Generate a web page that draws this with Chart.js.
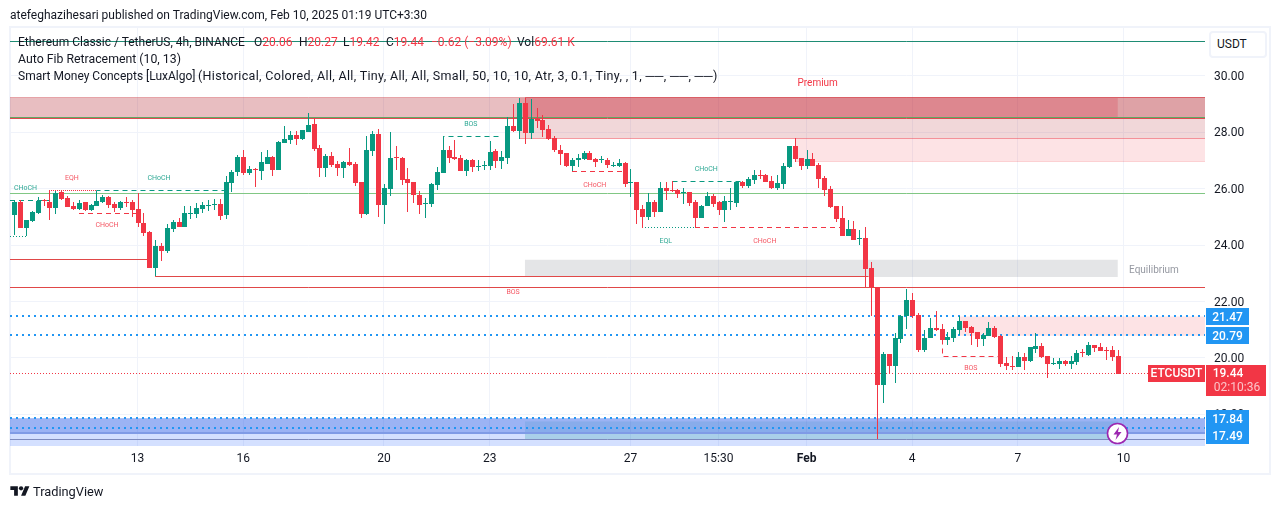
<!DOCTYPE html>
<html>
<head>
<meta charset="utf-8">
<title>ETCUSDT</title>
<script src="https://cdn.jsdelivr.net/npm/chart.js@4/dist/chart.umd.min.js"></script>
<style>
  html, body { margin: 0; padding: 0; background: #fff; }
  body { width: 1281px; height: 509px; overflow: hidden; position: relative; font-family: Roboto, sans-serif; color: #131722; }
  canvas { position: absolute; left: 0; top: 0; }
  .txt { position: absolute; white-space: pre; font-size: 12px; line-height: 16px; }
  .red { color: #f23645; }
  #frame { position: absolute; left: 9px; top: 26px; width: 1258px; height: 445px; border: 2px solid #f0f3fa; }
  #unit { position: absolute; left: 1209px; top: 31px; width: 48px; height: 23px; padding-left: 6px; border: 2px solid #f0f3fa; border-radius: 4px; font-size: 12px; line-height: 23px; background: #fff; }
  #bolt { position: absolute; left: 1106px; top: 422px; }
  #logo { position: absolute; left: 10px; top: 484px; }
</style>
</head>
<body>
<div id="frame"></div>
<canvas id="chart" width="1281" height="509"></canvas>
<div class="txt" style="left:10px;top:7px">atefeghazihesari published on TradingView.com, Feb 10, 2025 01:19 UTC+3:30</div>
<div class="txt" style="left:18px;top:34px">Ethereum Classic / TetherUS, 4h, BINANCE</div>
<div class="txt" style="left:254px;top:34px">O<span class="red">20.06</span></div>
<div class="txt" style="left:299px;top:34px">H<span class="red">20.27</span></div>
<div class="txt" style="left:343px;top:34px">L<span class="red">19.42</span></div>
<div class="txt" style="left:386px;top:34px">C<span class="red">19.44</span></div>
<div class="txt red" style="left:431px;top:34px">−0.62 (−3.09%)</div>
<div class="txt" style="left:517px;top:34px">Vol<span class="red">69.61 K</span></div>
<div class="txt" style="left:18px;top:51px;font-size:12.3px">Auto Fib Retracement (10, 13)</div>
<div class="txt" style="left:18px;top:68px">Smart Money Concepts [LuxAlgo]</div>
<div class="txt" style="left:198px;top:68px;font-size:12.5px;letter-spacing:.33px">(Historical, Colored, All, All, Tiny, All, All, Small, 50, 10, 10, Atr, 3, 0.1, Tiny, , 1, ──, ──, ──)</div>
<div id="unit">USDT</div>
<svg id="bolt" width="23" height="23" viewBox="0 0 23 23"><circle cx="11.5" cy="11.5" r="10" fill="#fff" stroke="#9c27b0" stroke-width="1.6"/><path d="M13 5 L7.5 12.5 H11 L9.5 18 L15.5 10 H12 Z" fill="#9c27b0"/></svg>
<svg id="logo" width="20" height="15" viewBox="0 0 36 28"><path d="M14 22H7V11H0V4h14v18zM28 22h-8l7.5-18h8L28 22z" fill="#131722"/><circle cx="20" cy="8" r="4" fill="#131722"/></svg>
<div class="txt" style="left:33px;top:484px;font-size:12.8px">TradingView</div>

<script>
// candles, 4h, index 0 = first bar on the left
const opens = [25.07,25.53,24.61,24.86,25.14,25.60,25.53,25.32,25.89,25.67,
25.39,25.28,25.53,25.25,25.39,25.53,25.71,25.46,25.32,25.53,
25.53,25.28,24.79,24.47,23.19,23.97,23.79,24.57,24.82,24.65,
25.11,25.11,25.28,25.39,25.43,25.46,25.07,26.21,26.60,27.13,
26.56,26.70,26.63,26.88,27.13,26.67,27.62,27.73,27.91,27.77,
28.01,28.30,27.45,26.74,27.16,26.88,26.74,26.95,26.88,26.24,
25.11,27.34,27.94,25.43,25.99,27.13,27.09,26.35,26.24,25.78,
25.46,25.46,26.14,26.56,27.38,27.13,27.09,26.63,27.02,26.77,
26.81,26.81,27.34,26.99,27.09,28.23,28.05,29.04,27.98,28.47,
28.44,28.12,27.80,27.38,27.27,26.81,27.02,27.06,27.27,27.06,
27.02,27.02,26.81,26.81,26.91,26.21,26.24,25.28,25.00,25.53,
25.18,26.03,25.96,25.96,25.85,25.89,25.53,24.96,25.39,25.74,
25.53,25.25,25.53,25.50,26.24,26.10,26.31,26.49,26.49,26.28,
26.03,26.17,26.77,27.52,27.09,26.81,27.06,26.84,26.38,25.99,
25.39,24.96,24.33,24.57,24.22,24.26,23.19,22.51,19.04,20.14,
19.72,20.67,21.49,22.06,21.53,20.28,20.71,21.06,21.03,20.64,
20.71,20.99,21.31,21.10,20.92,20.67,20.78,21.06,20.78,19.82,
19.72,19.68,20.04,19.89,20.32,20.43,20.07,19.79,19.79,19.89,
19.79,19.86,20.21,20.11,20.46,20.39,20.28,20.28,20.06];
const highs = [25.57,25.60,24.89,25.21,25.71,25.64,25.92,25.92,25.92,25.74,
25.53,25.60,25.53,25.46,25.92,25.78,25.74,25.53,25.57,25.71,
25.60,25.85,25.14,24.50,24.18,24.08,24.75,24.89,24.96,25.39,
25.39,25.50,25.53,25.60,25.64,25.64,26.45,26.67,27.20,27.38,
26.81,26.74,27.30,27.38,27.16,27.70,28.23,28.05,28.05,28.09,
28.69,28.51,27.55,27.23,27.30,26.99,26.99,27.45,26.95,26.24,
27.87,28.05,28.12,26.17,28.01,27.52,27.13,26.74,26.24,25.92,
25.67,26.21,26.77,27.87,27.52,27.73,27.20,27.06,27.06,27.02,
26.99,27.70,27.41,27.34,28.55,29.01,29.22,29.22,29.18,28.87,
28.62,28.26,27.87,27.55,27.27,27.09,27.23,27.34,27.34,27.09,
27.16,27.09,26.95,27.06,26.95,26.70,26.24,25.43,25.85,25.60,
26.24,26.24,26.28,25.99,26.03,25.89,25.60,25.43,25.89,25.82,
25.57,25.74,26.03,26.28,26.28,26.42,26.67,26.67,26.53,26.45,
26.49,26.91,27.52,27.80,27.09,27.38,27.27,26.91,26.45,26.10,
25.39,25.39,24.89,24.86,24.54,24.65,23.40,22.51,20.21,20.14,
20.89,21.53,22.45,22.30,21.60,20.99,21.42,21.67,21.21,20.92,
21.10,21.49,21.31,21.14,20.92,20.89,21.28,21.14,20.82,20.04,
20.07,20.21,20.18,20.39,20.89,20.53,20.07,20.00,20.00,19.93,
20.07,20.28,20.32,20.57,20.46,20.53,20.39,20.43,20.27];
const lows = [24.36,24.61,24.33,24.82,25.11,25.39,24.89,25.11,25.60,25.35,
25.25,25.25,25.21,25.21,25.39,25.50,25.32,25.18,25.25,25.35,
25.00,24.65,24.33,23.19,22.90,23.44,23.72,24.47,24.65,24.65,
24.93,24.96,25.14,25.21,25.25,24.89,24.93,25.89,26.45,26.49,
26.49,26.06,26.31,26.88,26.45,26.67,27.62,27.59,27.55,27.73,
28.01,27.34,26.42,26.42,26.77,26.45,26.38,26.81,26.10,24.96,
25.07,27.16,25.00,24.75,25.74,26.67,26.14,25.18,25.50,25.11,
24.96,25.35,25.96,26.56,26.91,27.02,26.63,26.45,26.60,26.63,
26.67,26.67,26.74,26.70,26.88,28.01,27.77,27.59,27.77,28.16,
27.84,27.73,27.30,26.84,26.77,26.63,26.77,27.02,27.02,26.77,
26.91,26.74,26.77,26.77,26.06,25.71,24.75,24.62,24.89,25.00,
25.18,25.60,25.89,25.67,25.46,25.39,24.63,24.96,25.39,25.35,
25.07,24.82,25.25,25.35,26.03,26.03,26.17,26.35,26.24,25.99,
25.96,25.99,26.74,26.95,26.67,26.70,26.81,26.03,25.74,25.32,
24.82,24.33,24.33,24.18,24.00,22.51,21.49,17.13,18.40,19.43,
19.11,20.53,21.03,21.42,20.21,20.21,20.71,20.96,20.64,20.46,
20.57,20.82,20.92,20.46,20.39,20.43,20.78,20.71,19.68,19.57,
19.57,19.68,19.57,19.86,20.18,20.00,19.29,19.75,19.61,19.72,
19.61,19.75,20.04,20.07,20.21,20.25,19.93,19.89,19.42];
const closes = [25.53,24.61,24.89,25.18,25.57,25.57,25.32,25.85,25.64,25.35,
25.28,25.50,25.25,25.43,25.57,25.71,25.43,25.32,25.53,25.50,
25.25,24.79,24.43,23.19,23.97,23.79,24.61,24.82,24.65,25.14,
25.14,25.32,25.43,25.43,25.46,25.04,26.24,26.60,27.13,26.56,
26.70,26.67,26.95,27.13,26.67,27.66,27.77,27.91,27.77,28.09,
28.26,27.41,26.74,27.16,26.84,26.74,26.95,26.84,26.21,25.11,
27.38,27.94,25.43,26.03,27.09,27.09,26.31,26.21,25.78,25.43,
25.50,26.17,26.60,27.38,27.09,27.06,26.63,27.02,26.77,26.81,
26.84,27.30,26.99,27.13,28.23,28.05,29.04,27.98,28.47,28.40,
28.09,27.77,27.38,27.23,26.81,27.02,27.09,27.27,27.02,26.95,
27.05,26.84,26.84,26.91,26.17,26.24,25.25,25.00,25.53,25.18,
26.03,25.92,25.92,25.82,25.89,25.50,24.96,25.39,25.74,25.46,
25.25,25.57,25.57,26.24,26.10,26.35,26.49,26.45,26.24,26.03,
26.21,26.81,27.52,27.06,26.81,27.06,26.81,26.35,25.96,25.35,
24.93,24.33,24.57,24.18,24.26,23.16,22.51,19.04,20.14,19.72,
20.71,21.49,22.06,21.49,20.28,20.71,21.06,20.99,20.64,20.75,
21.03,21.31,21.06,20.89,20.67,20.82,21.06,20.75,19.79,19.72,
19.68,20.04,19.89,20.39,20.43,20.04,19.79,19.82,19.89,19.79,
19.89,20.18,20.18,20.46,20.35,20.25,20.25,20.04,19.44];

// axes
const xTickIndex = [21, 39, 63, 81, 105, 120, 135, 153, 171, 189];
const xTickLabels = ['13', '16', '20', '23', '27', '15:30', 'Feb', '4', '7', '10'];
const yTicks = [18, 20, 22, 24, 26, 28, 30];
const xFirst = -0.73, xLast = 202.9, yLow = 16.88, yHigh = 31.70;

// zones: [from bar, to bar, top price, bottom price]
const premiumBand = [xFirst, xLast, 29.22, 28.51];
const premiumInner = [87, 188.05, 29.22, 28.51];
const supplyBlock = [86, xLast, 29.22, 27.78];
const supplyBlockLow = [133, xLast, 27.78, 26.96];
const equilibriumBand = [87, 188.05, 23.48, 22.87];
const resistanceBand = [161, xLast, 21.47, 20.79];
const discountBand = [xFirst, xLast, 17.86, 16.88];
const discountMid = [xFirst, xLast, 17.86, 17.31];
const discountInner = [87, 188.05, 17.75, 17.31];
const discountInnerLow = [87, 188.05, 17.31, 17.11];

// horizontal levels and structure lines: [bar, price] points
const topFib = [[xFirst, 31.22], [xLast, 31.22]];
const fibHigh = [[xFirst, 28.51], [xLast, 28.51]];
const premiumFloor = [[xFirst, 28.49], [xLast, 28.49]];
const fibMid = [[xFirst, 25.83], [xLast, 25.83]];
const fibLow = [[xFirst, 22.50], [xLast, 22.50]];
const fibBase = [[xFirst, 17.31], [xLast, 17.31]];
const fibFloor = [[xFirst, 17.11], [xLast, 17.11]];
const leftRed = [[xFirst, 23.50], [23, 23.50]];
const longRed = [[24, 23.20], [24, 22.90], [145.5, 22.90]];
const dottedBlue = [21.47, 20.79, 17.84, 17.49];
const lastPrice = [[xFirst, 19.44], [xLast, 19.44]];
const greenDashed = [
  [[xFirst, 25.59], [6, 25.59]],
  [[14, 25.57], [14, 25.95], [36, 25.95]],
  [[73, 27.38], [73, 27.86], [83, 27.86]],
  [[112, 25.95], [112, 26.26], [124, 26.26]]
];
const redDashed = [
  [[11, 25.13], [21, 25.13]],
  [[95, 26.62], [104, 26.62]],
  [[116, 24.63], [141, 24.63]],
  [[158, 20.64], [158, 20.06], [168, 20.06]]
];
const greenDotted = [
  [[xFirst, 24.30], [2, 24.30]],
  [[107, 24.63], [116, 24.63]]
];
const redDotted = [[[6, 25.93], [14, 25.93]]];

// small labels on the chart
const greenLabels = ['CHoCH', 'CHoCH', 'BOS', 'CHoCH', 'EQL'];
const greenLabelBars = [1.9, 24.65, 77.8, 117.9, 111];
const greenLabelPrices = [26.06, 26.40, 28.32, 26.72, 24.19];
const redLabels = ['EQH', 'CHoCH', 'CHoCH', 'CHoCH', 'BOS', 'BOS'];
const redLabelBars = [9.83, 15.8, 98.9, 127.9, 85, 163];
const redLabelPrices = [26.40, 24.73, 26.17, 24.19, 22.38, 19.66];

const priceTags = [21.47, 20.79, 17.84, 17.49];

const GREEN = '#089981', RED = '#f23645', BLUE = '#2196f3';

function zone(r, color, order) {
  return {
    type: 'line', data: [{ x: r[0], y: r[2] }, { x: r[1], y: r[2] }],
    fill: { value: r[3] }, backgroundColor: color, borderWidth: 0,
    pointRadius: 0, order: order || 20
  };
}

function path(points, color, dash, width, order) {
  return {
    type: 'line', data: points.map(p => ({ x: p[0], y: p[1] })),
    borderColor: color, borderWidth: width || 1, borderDash: dash || [],
    pointRadius: 0, fill: false, tension: 0, order: order || 5
  };
}

const barColors = opens.map((o, i) => closes[i] >= o ? GREEN : RED);

const datasets = [
  zone(discountBand, 'rgba(41,98,255,0.2)'),
  zone(discountMid, 'rgba(59,100,216,0.36)'),
  zone(discountInner, 'rgba(8,153,129,0.15)'),
  zone(discountInnerLow, 'rgba(8,153,129,0.22)'),
  zone(premiumBand, 'rgba(178,40,51,0.3)'),
  zone(supplyBlock, 'rgba(178,40,51,0.19)'),
  zone(premiumInner, 'rgba(242,54,69,0.23)'),
  zone(supplyBlockLow, 'rgba(242,54,69,0.14)'),
  zone(equilibriumBand, 'rgba(120,123,134,0.2)'),
  zone(resistanceBand, 'rgba(242,54,69,0.14)'),
  path([[xFirst, 29.22], [xLast, 29.22]], 'rgba(200,50,60,0.45)', [], 1, 15),
  path([[87, 29.22], [xLast, 29.22]], 'rgba(220,50,60,0.6)', [], 1, 15),
  path([[86, 27.78], [xLast, 27.78]], 'rgba(242,54,69,0.45)', [], 1, 15),
  path([[133, 26.96], [xLast, 26.96]], 'rgba(242,54,69,0.15)', [], 1, 15),
  path(premiumFloor, '#e0484f', [], 1, 15),
  path(fibHigh, '#5fa864', [], 1, 14),
  path(topFib, '#1e8c74'),
  path(fibMid, '#81c784'),
  path(fibLow, '#e04848'),
  path(fibBase, '#7f9be6', [], 2, 14),
  path(fibFloor, '#7e8bbd'),
  path(leftRed, '#e04848'),
  path(longRed, '#e04848'),
  path(lastPrice, RED, [1, 2])
];
dottedBlue.forEach(p => datasets.push(path([[xFirst, p], [xLast, p]], BLUE, [2, 4], 2, 4)));
greenDashed.forEach(p => datasets.push(path(p, GREEN, [5, 4])));
redDashed.forEach(p => datasets.push(path(p, RED, [5, 4])));
greenDotted.forEach(p => datasets.push(path(p, GREEN, [1, 2])));
redDotted.forEach(p => datasets.push(path(p, RED, [1, 1])));
datasets.push({
  type: 'bar', data: opens.map((o, i) => ({ x: i, y: [lows[i], highs[i]] })),
  backgroundColor: barColors, barThickness: 1, grouped: false, inflateAmount: 0, order: 2
});
datasets.push({
  type: 'bar', data: opens.map((o, i) => ({ x: i, y: [o, closes[i]] })),
  backgroundColor: barColors, barThickness: 5, grouped: false, inflateAmount: 0, order: 1
});

// keep candles and thin lines on whole pixels, like the original renderer
const snapPixels = {
  id: 'snapPixels',
  afterDatasetsUpdate(chart) {
    chart.data.datasets.forEach((ds, i) => {
      chart.getDatasetMeta(i).data.forEach(el => {
        if (ds.type === 'bar') {
          el.x = Math.round(el.x) + 0.5;
          el.y = Math.round(el.y);
          el.base = Math.round(el.base);
          if (Math.abs(el.base - el.y) < 1) el.base = el.y + 1;
        } else if (!ds.fill) {
          // plain horizontals start on a pixel edge so their dots stay sharp
          el.x = ds.data.length === 2 ? Math.round(el.x) : Math.round(el.x) + 0.5;
          el.y = ds.borderWidth === 2 ? Math.floor(el.y) : Math.floor(el.y) + 0.5;
        }
      });
    });
  }
};

// chart labels and the price tags on the right axis
const overlayText = {
  id: 'overlayText',
  afterDraw(chart) {
    const c = chart.ctx, xs = chart.scales.x, ys = chart.scales.y;
    c.save();
    c.textAlign = 'center';
    c.textBaseline = 'middle';
    c.font = '7px Roboto';
    c.fillStyle = 'rgba(8,153,129,0.85)';
    greenLabels.forEach((t, i) => c.fillText(t, xs.getPixelForValue(greenLabelBars[i]), ys.getPixelForValue(greenLabelPrices[i]) + 1));
    c.fillStyle = 'rgba(242,54,69,0.85)';
    redLabels.forEach((t, i) => c.fillText(t, xs.getPixelForValue(redLabelBars[i]), ys.getPixelForValue(redLabelPrices[i]) + 1));
    c.font = '10px Roboto';
    c.fillStyle = RED;
    c.fillText('Premium', xs.getPixelForValue(136.9), ys.getPixelForValue(29.74));
    c.fillStyle = '#9598a1';
    c.fillText('Equilibrium', xs.getPixelForValue(194.2), ys.getPixelForValue(23.11));

    // blue tags, pushed down when they would overlap
    c.font = '500 12px Roboto';
    let prevBottom = 0;
    priceTags.forEach(p => {
      let y = Math.round(ys.getPixelForValue(p)) - 8.5;
      if (y < prevBottom) y = prevBottom;
      prevBottom = y + 17;
      c.fillStyle = BLUE;
      c.fillRect(1206, Math.floor(y), 43, 17);
      c.fillStyle = '#fff';
      c.fillText(p.toFixed(2), 1227.5, y + 9);
    });

    // last price tag
    const ly = Math.round(ys.getPixelForValue(closes[closes.length - 1])) - 9;
    c.fillStyle = RED;
    c.fillRect(1148, ly, 57, 17);
    c.fillRect(1206, ly, 60, 31);
    c.fillStyle = '#fff';
    c.fillText('ETCUSDT', 1176.5, ly + 9);
    c.fillText(closes[closes.length - 1].toFixed(2), 1228, ly + 9);
    c.font = '12px Roboto';
    c.fillStyle = '#fcc4c9';
    c.fillText('02:10:36', 1237, ly + 23);
    c.restore();
  }
};

new Chart(document.getElementById('chart').getContext('2d'), {
  type: 'bar',
  data: { datasets: datasets },
  plugins: [snapPixels, overlayText],
  options: {
    responsive: false,
    animation: false,
    layout: { padding: { left: 10, right: 10, top: 28, bottom: 36 } },
    plugins: { legend: { display: false }, tooltip: { enabled: false } },
    scales: {
      x: {
        type: 'linear', min: xFirst, max: xLast, offset: false,
        afterBuildTicks: s => { s.ticks = xTickIndex.map(v => ({ value: v })); },
        afterFit: s => { s.height = 27; },
        grid: { color: '#f0f3fa', offset: false, drawTicks: false },
        border: { display: false },
        ticks: {
          autoSkip: false, maxRotation: 0, padding: 6, color: '#131722',
          font: ctx => ({ family: 'Roboto', size: 12, weight: ctx.tick && ctx.tick.value === 135 ? 'bold' : 'normal' }),
          callback: v => xTickLabels[xTickIndex.indexOf(v)]
        }
      },
      y: {
        type: 'linear', position: 'right', min: yLow, max: yHigh,
        afterBuildTicks: s => {
          s.ticks = yTicks.map(v => ({ value: v }));
          // price labels sit a pixel lower than the grid line
          if (!s.labelsMoved) {
            const drawLabels = s.drawLabels;
            s.drawLabels = function (area) {
              this.ctx.save();
              this.ctx.translate(0, 1);
              drawLabels.call(this, area);
              this.ctx.restore();
            };
            s.labelsMoved = true;
          }
        },
        afterFit: s => { s.width = 66; },
        grid: { color: '#f0f3fa', drawTicks: false },
        border: { display: false },
        ticks: {
          padding: 9, color: '#131722', font: { family: 'Roboto', size: 12 },
          callback: v => v.toFixed(2)
        }
      }
    }
  }
});
</script>
</body>
</html>
